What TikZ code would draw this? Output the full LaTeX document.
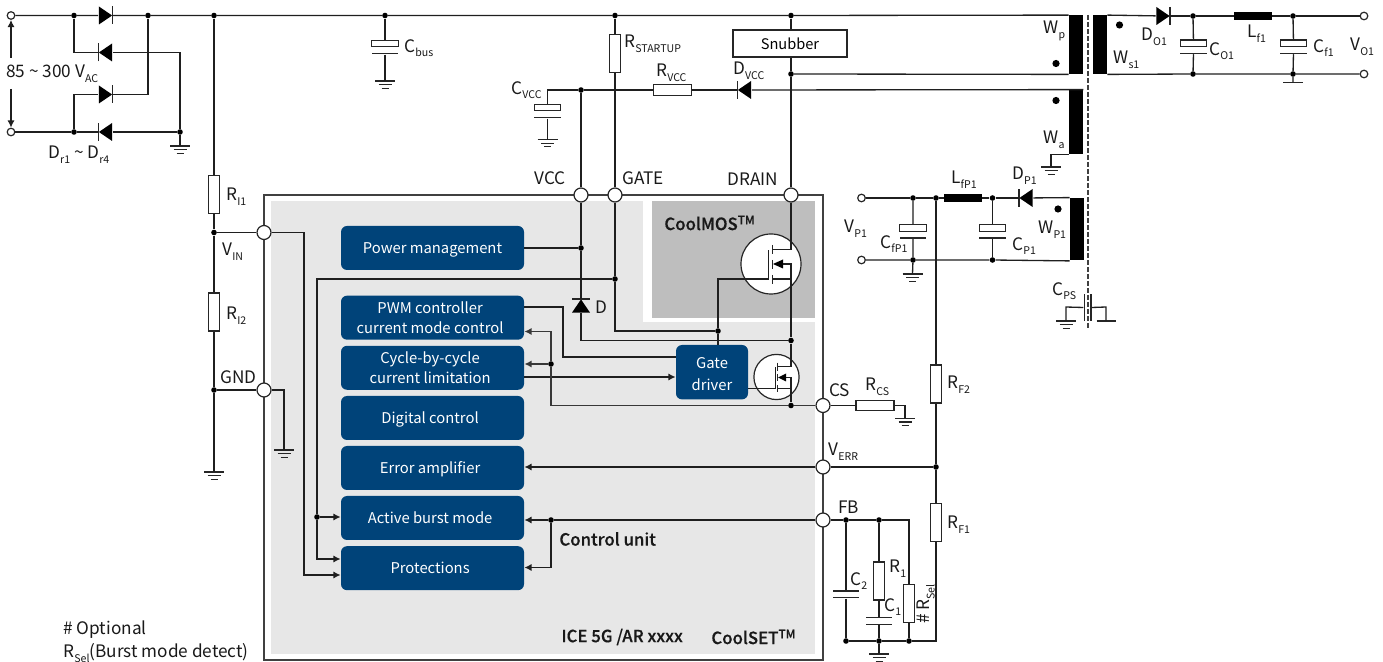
\documentclass[tikz,border=0pt]{standalone}
\usepackage{fontspec}
\setmainfont{Noto Sans CJK SC}
\newfontfamily\medfont[FakeBold=0.45]{Noto Sans CJK SC Medium}
\usetikzlibrary{arrows.meta}
\definecolor{icblue}{HTML}{004379}
\definecolor{icgray}{HTML}{E7E7E7}
\definecolor{cmgray}{HTML}{BEBEBE}
\definecolor{edge}{HTML}{404040}
\tikzset{
 wire/.style={draw=black!88,line width=.66pt},
 atip/.style={wire,-{Latex[length=3.6pt,width=3.6pt]}},
 heavy/.style={line width=.8pt,draw=black!78},
 junc/.style={circle,fill=black,inner sep=0,minimum size=2.8pt},
 term/.style={circle,draw=black!85,fill=white,line width=.6pt,inner sep=0,minimum size=3.8pt},
 pin/.style={circle,draw=black!85,fill=white,line width=.6pt,inner sep=0,minimum size=7pt},
 resh/.style={rectangle,draw=black!85,fill=white,line width=.6pt,inner sep=0,minimum width=19pt,minimum height=5.2pt},
 resv/.style={rectangle,draw=black!85,fill=white,line width=.6pt,inner sep=0,minimum width=5.2pt,minimum height=19pt},
 choke/.style={rectangle,fill=black,inner sep=0,minimum width=19pt,minimum height=4pt},
 core/.style={rectangle,fill=black,inner sep=0,minimum width=7pt},
 capbar/.style={rectangle,draw=black!85,fill=white,line width=.6pt,inner sep=0,minimum width=13.2pt,minimum height=3.2pt},
 plate/.style={rectangle,fill=black!85,inner sep=0,minimum width=13.2pt,minimum height=.65pt},
 diodebox/.style={rectangle,inner sep=0,minimum width=7pt,minimum height=9pt},
 block/.style={rectangle,rounded corners=3pt,fill=icblue,text=white,inner sep=0,minimum width=91.5pt,minimum height=22pt,align=center,font=\fontsize{7.4}{10}\selectfont},
 oneline/.style={text height=7pt,text depth=1.2pt},
 lbl/.style={inner sep=0,anchor=west,font=\fontsize{8.6}{10}\selectfont,text=black!90},
 bold/.style={inner sep=0,anchor=west,font=\fontsize{8.4}{10}\medfont\selectfont,text=black!90},
 mosc/.style={circle,draw=black!85,fill=white,line width=.6pt,inner sep=0},
 seg/.style={draw=black!85,line width=.6pt},
}
\newcommand\sbs[1]{\raisebox{-.5ex}{\fontsize{5.3}{6}\selectfont #1}}
\newcommand\bk{\hspace*{2.4pt}}
\newcommand\diode[3]{%
 \node[diodebox,rotate=#3] (#1) at (#2) {};
 \begin{scope}[shift={(#2)},rotate=#3]
  \fill[black] (-6.6,-9)--(6.6,0)--(-6.6,9)--cycle;
  \draw[seg] (7,-9)--(7,9);
 \end{scope}}
\newcommand\gnd[2]{%
 \coordinate (#1) at (#2);
 \begin{scope}[shift={(#2)}]
  \draw[seg] (-10,0)--(10,0) (-6.5,3.6)--(6.5,3.6) (-3.5,7.2)--(3.5,7.2);
 \end{scope}}
\newcommand\pcap[3]{%
 \node[capbar] (#1a) at (#2,#3) {};
 \node[plate] (#1b) at (#2,#3+10) {};}
\newcommand\lab[4]{\node[lbl] (#1) at (#2,#3) {#4};}
\begin{document}
\begin{tikzpicture}[x=.5pt,y=-.5pt]
\useasboundingbox (0,0) rectangle (1383,662);
% ---- IC backgrounds
\node[rectangle,draw=edge,line width=1pt,fill=white,inner sep=0,minimum width=279.5pt,minimum height=232.5pt] (ic) at (543.5,427.5) {};
\fill[icgray] (270.5,201) rectangle (815,654.5);
\fill[white] (642.5,201) rectangle (815.5,322.5);
\node[rectangle,fill=cmgray,inner sep=0,minimum width=81.5pt,minimum height=58.5pt] (cm) at (733.5,259.5) {};
% ---- pins
\node[pin] (pVin) at (264,232.5) {};
\node[pin] (pGnd) at (264,390) {};
\node[pin] (pVcc) at (581,195) {};
\node[pin] (pGate) at (615,195) {};
\node[pin] (pDrain) at (791,195) {};
\node[pin] (pCs) at (823,405.5) {};
\node[pin] (pErr) at (823,467) {};
\node[pin] (pFb) at (823,520) {};
% ---- terminals
\node[term] (t1) at (11,15.5) {};
\node[term] (t2) at (11,132) {};
\node[term] (t3) at (1364,16) {};
\node[term] (t4) at (1364,74) {};
\node[term] (t5) at (861.5,198) {};
\node[term] (t6) at (861.5,260) {};
% ---- junctions
\foreach \n/\p in {j74/{74,15.5},j148/{148,15.5},j214/{214,15.5},j385/{385,15.5},j615/{615,15.5},j791/{791,15.5},
 j74b/{74,132},j180/{180,132},jVin/{214,232.5},jGnd/{214,390},jVcc/{581,90},jSn/{791,74},
 jPm/{581,248},jG/{615,279},jGd/{718,331},jD/{791,340.5},jCs/{791,405.5},jFb1/{551,364},
 jA/{317,517},jFbi/{551,520},jO1/{1193,16},jO2/{1193,74},jO3/{1293,16},jO4/{1293,74},
 jP1/{913,198},jP2/{936,198},jP3/{992.5,198},jP4/{913,260},jP5/{992.5,260},
 jErr/{936,467},jF1/{846,520},jF2/{879,520},jF3/{846,641},jF4/{879,641},jF5/{909,641}}
 {\node[junc] (\n) at (\p) {};}
\coordinate (fbc) at (909,520);
\coordinate (fbd) at (936,641);
% ---- diodes
\diode{D1}{105.5,15.5}{0}
\diode{D2}{105.5,52.5}{180}
\diode{D3}{105.5,94.5}{0}
\diode{D4}{105.5,132}{180}
\diode{Dvcc}{744.5,90}{180}
\diode{Do}{1163,16}{0}
\diode{Dp}{1026,198}{180}
\diode{Dd}{581,306}{90}
% ---- resistors, chokes, snubber, windings
\node[resv] (Ri1) at (214,194.5) {};
\node[resv] (Ri2) at (214,312) {};
\node[resv] (Rst) at (615,53.5) {};
\node[resh] (Rvcc) at (672.5,90) {};
\node[resh] (Rcs) at (875,405.5) {};
\node[resv] (Rf2) at (936,384) {};
\node[resv] (Rf1) at (936,522.5) {};
\node[resv] (R1) at (879,581) {};
\node[resv] (Rsel) at (909,603.5) {};
\node[choke] (Lf) at (1253,16) {};
\node[choke] (Lfp) at (963,198) {};
\node[rectangle,draw=black!85,fill=white,line width=.6pt,inner sep=0,minimum width=57pt,minimum height=13.5pt,text height=7pt,text depth=1.2pt,font=\fontsize{7.3}{10}\selectfont] (Snub) at (790,43.5) {Snubber};
\node[core,minimum height=29.25pt] (Wp) at (1076,44.75) {};
\node[core,minimum height=32pt] (Wa) at (1076,122) {};
\node[core,minimum height=31.25pt] (Wp1) at (1077,229.25) {};
\node[core,minimum height=29.25pt] (Ws) at (1100,44.75) {};
% ---- capacitors
\pcap{Cb}{385}{43.7}
\pcap{Cv}{547.5}{107.5}
\pcap{Co}{1193.5}{43.2}
\pcap{Cf}{1293.5}{43.2}
\pcap{Cfp}{913}{228}
\pcap{Cp}{992.5}{228}
\node[plate] (C2a) at (846,591) {};
\node[plate] (C2b) at (846,597.7) {};
\node[plate] (C1a) at (879,617.7) {};
\node[plate] (C1b) at (879,624.3) {};
\node[plate,minimum width=.65pt,minimum height=13.4pt] (Csa) at (1084.3,307.5) {};
\node[plate,minimum width=.65pt,minimum height=13.4pt] (Csb) at (1091,307.5) {};
% ---- grounds
\gnd{g1}{180,146}
\gnd{g2}{385,81}
\gnd{g3}{547.5,139.7}
\gnd{g4}{214,472}
\gnd{g5}{284,450}
\gnd{g6}{905,418.5}
\gnd{g7}{1051,167}
\gnd{g8}{912.5,274}
\gnd{g9}{1066,321}
\gnd{g10}{879,654}
\coordinate (g11) at (1293,82.5);
\draw[seg] (1283,82.5)--(1303,82.5);
\coordinate (g12) at (1106,321);
\draw[seg] (1096.5,321)--(1116,321);
% ---- blocks
\node[block,oneline] (bPm) at (432.5,248) {Power management};
\node[block] (bPwm) at (432.5,317.7) {PWM controller\bk\\current mode control\bk};
\node[block] (bCyc) at (432.5,367.8) {Cycle-by-cycle\bk\\current limitation\bk};
\node[block,oneline] (bDig) at (432.5,418) {Digital control\bk};
\node[block,oneline] (bErr) at (432.5,468) {Error amplifier\bk};
\node[block,oneline] (bBur) at (432.5,518) {Active burst mode\bk};
\node[block,oneline] (bPro) at (432.5,568.2) {Protections\bk};
\node[block,minimum width=36pt,minimum height=27.2pt] (bGd) at (712,372.2) {\rule{0pt}{7.6pt}Gate\\[1pt]driver};
% ---- MOSFETs
\node[mosc,minimum size=30pt] (Q1) at (771,264) {};
\node[mosc,minimum size=22.6pt] (Q2) at (776.5,377) {};
\coordinate (Q1g) at (768.7,279);
\coordinate (Q1gt) at (768.7,250);
\coordinate (Q1d) at (791,249.7);
\coordinate (Q1b) at (791,264);
\coordinate (Q1s) at (791,279);
\coordinate (Q2g) at (775.7,388.5);
\coordinate (Q2gt) at (775.7,366.7);
\coordinate (Q2d) at (791,366.7);
\coordinate (Q2b) at (791,377.5);
\coordinate (Q2s) at (791,388.5);
\draw[seg] (772.7,245)--(772.7,254) (772.7,260)--(772.7,269) (772.7,275)--(772.7,284);
\draw[seg] (777.7,362.7)--(777.7,370.7) (777.7,374)--(777.7,381) (777.7,385)--(777.7,391.7);
\fill[black] (773,264)--(783,259.5)--(783,268.5)--cycle;
\fill[black] (778,377.5)--(786,373.5)--(786,381.5)--cycle;
% ---- wires: power stage
\draw[wire] (t1)--(j74)--(D1)--(j148)--(j214)--(j385)--(j615)--(j791)--(Wp.north west);
\draw[wire] (j74) |- (D2);
\draw[wire] (D2) -| (j180);
\draw[wire] (j74b) |- (D3);
\draw[wire] (D3) -| (j148);
\draw[wire] (t2)--(j74b)--(D4)--(j180);
\draw[wire] (j180)--(g1);
\coordinate (arT) at (11,58);
\coordinate (arB) at (11,89);
\draw[atip] (arT)--(t1);
\draw[atip] (arB)--(t2);
\draw[wire] (j214)--(Ri1);
\draw[wire] (Ri1)--(jVin)--(Ri2);
\draw[wire] (Ri2)--(jGnd)--(g4);
\draw[wire] (jVin)--(pVin);
\draw[wire] (jGnd)--(pGnd);
\draw[wire] (pGnd) -| (g5);
\draw[wire] (j385)--(Cba) (Cbb)--(g2);
\draw[wire] (j615)--(Rst);
\draw[wire] (Rst)--(pGate);
\draw[wire] (j791)--(j791|-Snub.north);
\draw[wire] (j791|-Snub.south)--(jSn)--(pDrain);
\draw[wire] (jSn)--(Wp.south west);
\draw[wire] (Cva)|-(jVcc);
\draw[wire] (Cvb)--(g3);
\draw[wire] (jVcc)--(Rvcc);
\draw[wire] (Rvcc)--(Dvcc);
\draw[wire] (Dvcc)--(Wa.north east);
\draw[wire] (jVcc)--(pVcc);
\draw[wire] (Wa.south west) -| (g7);
% ---- secondary
\draw[wire] (Ws.north east)--(Do);
\draw[wire] (Do)--(jO1)--(Lf);
\draw[wire] (Lf)--(jO3)--(t3);
\draw[wire] (Ws.south east)--(jO2)--(jO4)--(t4);
\draw[wire] (jO1)--(Coa) (Cob)--(jO2);
\draw[wire] (jO3)--(Cfa) (Cfb)--(jO4)--(g11);
% ---- auxiliary output
\draw[wire] (t5)--(jP1)--(jP2)--(Lfp);
\draw[wire] (Lfp)--(jP3)--(Dp);
\draw[wire] (Dp)--(Wp1.north west);
\draw[wire] (t6)--(jP4)--(jP5)--(Wp1.south west);
\draw[wire] (jP1)--(Cfpa) (Cfpb)--(jP4)--(g8);
\draw[wire] (jP3)--(Cpa) (Cpb)--(jP5);
\draw[wire] (jP2)--(Rf2);
\draw[wire] (Rf2)--(jErr)--(Rf1);
\draw[wire] (Rf1)--(fbd)--(jF5)--(jF4)--(jF3);
\coordinate (cpl) at (1066,307);
\coordinate (cpr) at (1106,307);
\draw[wire] (Csa.west)--(cpl)--(g9);
\draw[wire] (Csb.east)--(cpr)--(g12);
\draw[edge,line width=.75pt,dash pattern=on 2.5pt off 1pt] (1088,15)--(1088,330);
% ---- feedback network
\draw[wire] (pCs)--(Rcs);
\draw[wire] (Rcs) -| (g6);
\draw[wire] (pErr)--(jErr);
\draw[wire] (pFb)--(jF1)--(jF2)--(fbc)--(Rsel);
\draw[wire] (Rsel)--(jF5);
\draw[wire] (jF1)--(C2a) (C2b)--(jF3);
\draw[wire] (jF2)--(R1);
\draw[wire] (R1)--(C1a) (C1b)--(jF4)--(g10);
% ---- inside the IC
\coordinate (a1) at (304,575);
\coordinate (a2) at (317,279);
\coordinate (a3) at (317,559);
\draw[atip] (pVin) -| (a1) -- (bPro.west|-a1);
\draw[wire] (jG)--(a2)--(jA);
\draw[atip] (jA)--(a3)--(bPro.west|-a3);
\draw[atip] (jA)--(bBur.west|-jA);
\draw[wire] (bPm.east|-jPm)--(jPm);
\draw[wire] (pVcc)--(jPm)--(Dd);
\coordinate (dc) at (581,340.5);
\draw[wire] (Dd)--(dc)--(jD);
\draw[wire] (pGate)--(jG);
\coordinate (gc) at (615,331);
\draw[wire] (jG)--(gc)--(jGd);
\draw[wire] (jGd)--(bGd.north-|jGd);
\draw[wire] (jGd) |- (Q1g);
\draw[wire] (Q1g)--(Q1gt);
\draw[wire] (pDrain)--(Q1d)--(772.7,249.7);
\draw[wire] (772.7,279)--(Q1s)--(jD);
\draw[wire] (Q1s)--(Q1b)--(783,264);
\draw[wire] (jD)--(Q2d)--(777.7,366.7);
\draw[wire] (777.7,388.5)--(Q2s)--(jCs);
\draw[wire] (Q2s)--(Q2b)--(786,377.5);
\draw[wire] (bGd.east|-Q2g)--(Q2g);
\draw[wire] (Q2g)--(Q2gt);
\coordinate (pw1) at (563,307);
\coordinate (pw2) at (563,357);
\draw[wire] (bPwm.east|-pw1)--(pw1)--(pw2)--(bGd.west|-pw2);
\coordinate (cy1) at (600,377);
\draw[atip] (bCyc.east|-cy1)--(bGd.west|-cy1);
\coordinate (cs1) at (551,405.5);
\coordinate (cs2) at (551,331.5);
\draw[wire,heavy] (pCs)--(jCs)--(cs1)--(jFb1);
\draw[atip,heavy] (jFb1)--(cs2)--(bPwm.east|-cs2);
\draw[atip,heavy] (jFb1)--(bCyc.east|-jFb1);
\draw[atip] (pErr)--(bErr.east|-pErr);
\coordinate (fb2) at (551,567.5);
\draw[wire] (pFb)--(jFbi);
\draw[atip] (jFbi)--(bBur.east|-jFbi);
\draw[atip] (jFbi)--(fb2)--(bPro.east|-fb2);
% ---- labels
\lab{l1}{6}{74}{85 \char`\~{} 300 V\sbs{AC}}
\lab{l2}{48}{155}{D\sbs{r1} \char`\~{} D\sbs{r4}}
\lab{l3}{404}{48}{C\sbs{bus}}
\lab{l4}{226}{197}{R\sbs{I1}}
\lab{l5}{226}{316}{R\sbs{I2}}
\lab{l6}{222}{252}{V\sbs{IN}}
\lab{l7}{220}{377}{GND}
\lab{l8}{624}{44}{R\sbs{STARTUP}}
\lab{l9}{656}{73}{R\sbs{VCC}}
\lab{l10}{733}{71}{D\sbs{VCC}}
\lab{l11}{511}{90}{C\sbs{VCC}}
\lab{l12}{534}{178}{VCC}
\lab{l13}{622}{178}{GATE}
\lab{l14}{727}{179}{DRAIN}
\lab{l15}{595}{307}{D}
\lab{l16}{1043}{31}{W\sbs{p}}
\lab{l17}{1043}{140}{W\sbs{a}}
\lab{l18}{1113}{60}{W\sbs{s1}}
\lab{l19}{1141}{37}{D\sbs{O1}}
\lab{l20}{1209}{51}{C\sbs{O1}}
\lab{l21}{1247}{34}{L\sbs{f1}}
\lab{l22}{1313}{48}{C\sbs{f1}}
\lab{l23}{1350}{47}{V\sbs{O1}}
\lab{l24}{951}{180}{L\sbs{fP1}}
\lab{l25}{1012}{176}{D\sbs{P1}}
\lab{l26}{1038}{230}{W\sbs{P1}}
\lab{l27}{844}{229}{V\sbs{P1}}
\lab{l28}{880}{244}{C\sbs{fP1}}
\lab{l29}{1012}{246}{C\sbs{P1}}
\lab{l30}{1052}{291}{C\sbs{PS}}
\lab{l31}{829}{390}{CS}
\lab{l32}{865}{387}{R\sbs{CS}}
\lab{l33}{947}{385}{R\sbs{F2}}
\lab{l34}{947}{525}{R\sbs{F1}}
\lab{l35}{828}{452}{V\sbs{ERR}}
\lab{l36}{838}{507}{FB}
\lab{l37}{850}{581}{C\sbs{2}}
\lab{l38}{889}{569}{R\sbs{1}}
\lab{l39}{884}{607}{C\sbs{1}}
\node[lbl,rotate=90,anchor=center] (l40) at (926,604) {\# R\sbs{Sel}};
\lab{l41}{63}{630}{\# Optional}
\lab{l42}{63}{653}{R\sbs{Sel}(Burst mode detect)}
\node[bold] (l43) at (664,223) {CoolMOS\textsuperscript{TM}};
\node[bold] (l44) at (559,539) {Control unit};
\node[bold] (l45) at (561,637) {ICE 5G /AR xxxx};
\node[bold] (l46) at (711,637) {CoolSET\textsuperscript{TM}};
% ---- winding dots
\foreach \n/\p in {w1/{1056,63.5},w2/{1056,100.5},w3/{1119.5,25},w4/{1058,209}}
 {\node[junc,minimum size=3.6pt] (\n) at (\p) {};}
\end{tikzpicture}
\end{document}
